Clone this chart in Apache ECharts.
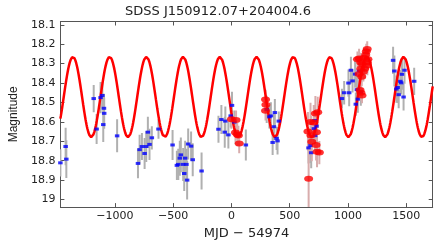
<!DOCTYPE html>
<html>
<head>
<meta charset="utf-8">
<script src="https://cdn.jsdelivr.net/npm/echarts@6/dist/echarts.min.js"></script>
<style>html,body{margin:0;padding:0;background:#fff}#c{width:436px;height:245px}</style>
</head>
<body>
<div id="c"></div>
<script>
// ---- data ----
const xTicks = [-1000, -500, 0, 500, 1000, 1500];
const yTicks = [18.1, 18.2, 18.3, 18.4, 18.5, 18.6, 18.7, 18.8, 18.9, 19.0];

const blueMJD = [-1468,-1423,-1417,-1182,-1157,-1123,-1108,-1100,-1094,-1092,-981,-802,-788,-768,-745,-731,-717,-703,-683,-626,
  -505,-468,-456,-443,-434,-414,-405,-397,-386,-380,-371,-346,-332,-256,-111,-86,-57,-52,-26,-6,5,25,124,
  303,326,339,354,365,373,388,396,407,662,679,685,708,713,719,730,
  949,968,1005,1011,1026,1040,1062,1068,1077,1085,1094,1111,
  1388,1399,1416,1427,1436,1450,1458,1464,1478,1486,1569];
const blueMag = [18.811,18.727,18.792,18.480,18.637,18.475,18.464,18.614,18.530,18.556,18.672,18.814,18.743,18.727,18.763,18.727,18.653,18.716,18.682,18.637,
  18.719,18.824,18.819,18.787,18.770,18.819,18.866,18.787,18.819,18.900,18.714,18.725,18.795,18.853,18.638,18.588,18.653,18.596,18.667,18.569,18.515,18.601,18.719,
  18.536,18.574,18.569,18.706,18.625,18.552,18.685,18.698,18.596,18.734,18.722,18.759,18.635,18.593,18.671,18.622,
  18.480,18.450,18.400,18.450,18.334,18.389,18.354,18.509,18.434,18.483,18.338,18.447,
  18.283,18.338,18.431,18.423,18.460,18.391,18.399,18.355,18.472,18.334,18.391];
const blueErr = [0.07,0.097,0.097,0.07,0.077,0.08,0.07,0.09,0.075,0.08,0.085,0.077,0.077,0.07,0.08,0.08,0.08,0.08,0.06,0.05,
  0.077,0.075,0.08,0.09,0.09,0.085,0.09,0.09,0.08,0.1,0.08,0.075,0.085,0.095,0.07,0.075,0.08,0.075,0.07,0.06,0.07,0.06,0.08,
  0.07,0.06,0.07,0.065,0.07,0.07,0.06,0.07,0.05,0.08,0.09,0.08,0.07,0.08,0.08,0.07,
  0.05,0.06,0.07,0.07,0.07,0.06,0.07,0.06,0.07,0.07,0.08,0.07,
  0.07,0.08,0.07,0.08,0.07,0.06,0.06,0.08,0.07,0.07,0.07];

const redMJD = [0,40,35,50,60,67,293,296,293,
  657,679,707,721,741,690,727,735,755,730,683,663,
  1082,1096,1110,1124,1138,1153,1158,1166,1172,1167,1167,1144,1133,1110,1119,1096,1104,1121,1112];
const redMag = [18.586,18.591,18.655,18.665,18.670,18.712,18.485,18.512,18.543,
  18.649,18.601,18.603,18.557,18.551,18.703,18.719,18.754,18.758,18.654,18.670,18.893,
  18.278,18.273,18.294,18.302,18.270,18.254,18.237,18.225,18.278,18.294,18.310,18.326,18.342,18.326,18.367,18.354,18.436,18.464,18.450];
const redErr = [0.05,0.05,0.06,0.06,0.05,0.05,0.05,0.05,0.05,
  0.1,0.1,0.09,0.09,0.08,0.1,0.08,0.08,0.06,0.08,0.1,0.17,
  0.04,0.05,0.05,0.05,0.05,0.04,0.04,0.04,0.05,0.05,0.05,0.05,0.05,0.05,0.05,0.05,0.04,0.04,0.04];

// fitted sinusoid model (parameters)
const modelMean = 18.472, modelAmp = 0.207, modelPeriod = 315.4, modelPeakMJD = -99;
const xMin = -1468, xMax = 1728, yMin = 18.083, yMax = 19.039;

// ---- build series ----
const modelCurve = [];
for (let t = xMin; t <= xMax; t += 4) {
  modelCurve.push([t, modelMean - modelAmp * Math.cos(2 * Math.PI * (t - modelPeakMJD) / modelPeriod)]);
}
const blueErrData = blueMJD.map((x, i) => [x, blueMag[i] - blueErr[i], blueMag[i] + blueErr[i]]);
const redErrData = redMJD.map((x, i) => [x, redMag[i] - redErr[i], redMag[i] + redErr[i]]);
const bluePts = blueMJD.map((x, i) => [x, blueMag[i]]);
const redPts = redMJD.map((x, i) => [x, redMag[i]]);

function errRender(color) {
  return function (params, api) {
    const p1 = api.coord([api.value(0), api.value(1)]);
    const p2 = api.coord([api.value(0), api.value(2)]);
    const cs = params.coordSys;
    const clamp = v => Math.max(cs.y, Math.min(cs.y + cs.height, v));
    return {
      type: 'line',
      shape: { x1: p1[0], y1: clamp(p1[1]), x2: p2[0], y2: clamp(p2[1]) },
      style: { stroke: color, lineWidth: 2 }
    };
  };
}

const FONT = 'DejaVu Sans';
const axisCol = '#555';
const minus = v => String(Math.round(v * 10) / 10).replace('-', '\u2212');

const chart = echarts.init(document.getElementById('c'), null, { renderer: 'canvas' });
chart.setOption({
  animation: false,
  backgroundColor: '#fff',
  title: {
    text: 'SDSS J150912.07+204004.6', left: 'center', top: 0,
    textStyle: { fontFamily: FONT, fontSize: 13, fontWeight: 'normal', color: '#222' }
  },
  grid: { left: 56.7, right: 3.3, top: 21.5, bottom: 26.3 },
  xAxis: [{
    type: 'value', min: xMin, max: xMax, position: 'bottom',
    name: 'MJD \u2212 54974', nameLocation: 'middle', nameGap: 14,
    nameTextStyle: { fontFamily: FONT, fontSize: 13, color: '#222' },
    axisLine: { show: true, onZero: false, lineStyle: { color: axisCol, width: 1 } },
    axisTick: { show: true, inside: true, length: 4, customValues: xTicks, lineStyle: { color: axisCol } },
    axisLabel: { customValues: xTicks, formatter: minus, margin: 4, fontFamily: FONT, fontSize: 11, color: '#222' },
    splitLine: { show: false }
  }, {
    type: 'value', min: xMin, max: xMax, position: 'top',
    axisLine: { show: true, onZero: false, lineStyle: { color: axisCol, width: 1 } },
    axisTick: { show: true, inside: true, length: 4, customValues: xTicks, lineStyle: { color: axisCol } },
    axisLabel: { show: false }, splitLine: { show: false }
  }],
  yAxis: [{
    type: 'value', min: yMin, max: yMax, inverse: true, position: 'left',
    name: 'Magnitude', nameLocation: 'middle', nameGap: 39, nameRotate: 90,
    nameTextStyle: { fontFamily: 'Liberation Sans', fontSize: 12, color: '#222' },
    axisLine: { show: true, onZero: false, lineStyle: { color: axisCol, width: 1 } },
    axisTick: { show: true, inside: true, length: 4, customValues: yTicks, lineStyle: { color: axisCol } },
    axisLabel: { customValues: yTicks, formatter: minus, margin: 5, fontFamily: FONT, fontSize: 11, color: '#222' },
    splitLine: { show: false }
  }, {
    type: 'value', min: yMin, max: yMax, inverse: true, position: 'right',
    axisLine: { show: true, onZero: false, lineStyle: { color: axisCol, width: 1 } },
    axisTick: { show: true, inside: true, length: 4, customValues: yTicks, lineStyle: { color: axisCol } },
    axisLabel: { show: false }, splitLine: { show: false }
  }],
  series: [
    { type: 'custom', renderItem: errRender('#b0b0b0'), data: blueErrData, encode: { x: 0, y: [1, 2] }, clip: true, z: 1 },
    { type: 'custom', renderItem: errRender('#d8acac'), data: redErrData, encode: { x: 0, y: [1, 2] }, clip: true, z: 1 },
    { type: 'line', data: modelCurve, showSymbol: false, symbol: 'none', lineStyle: { color: '#ff0000', width: 2.5 }, z: 2, clip: true },
    { type: 'scatter', data: bluePts, symbol: 'rect', symbolSize: [4.5, 3], itemStyle: { color: '#0000ff' }, z: 3 },
    { type: 'scatter', data: redPts, symbol: 'circle', symbolSize: [9, 6], itemStyle: { color: '#ff0000' }, z: 4 }
  ]
});
</script>
</body>
</html>
